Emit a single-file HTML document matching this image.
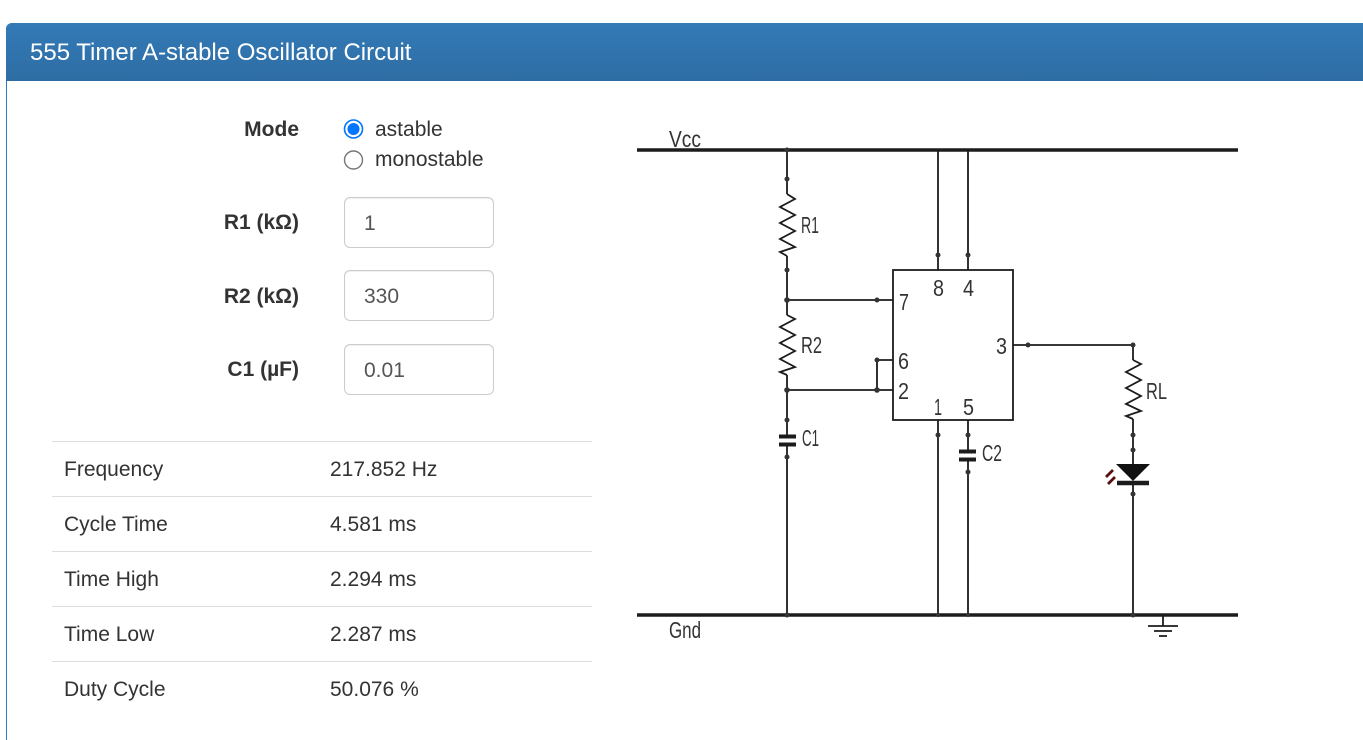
<!DOCTYPE html>
<html lang="en">
<head>
<meta charset="utf-8">
<title>555 Timer A-stable Oscillator Circuit</title>
<style>
html,body{margin:0;padding:0;background:#fff;width:1363px;height:740px;overflow:hidden}
body{position:relative;font-family:"Liberation Sans",Arial,sans-serif;font-size:21px;color:#333}
.panel{position:absolute;left:6px;top:23px;width:1357px;height:717px;border-left:1px solid #337ab7;box-sizing:border-box;border-top-left-radius:6px}
.head{position:absolute;left:6px;top:23px;width:1357px;height:58px;background:linear-gradient(#337ab7,#2e6da4);border-top-left-radius:6px}
.title{position:absolute;left:30px;top:38px;line-height:30px;font-size:24px;color:#fff;white-space:nowrap}
.lab{position:absolute;right:1064px;line-height:30px;font-weight:bold;white-space:nowrap}
.t{position:absolute;line-height:30px;white-space:nowrap}
.input{position:absolute;left:344px;width:150px;height:51px;box-sizing:border-box;border:1px solid #ccc;border-radius:6px;color:#555;line-height:51px;padding-left:19px;background:#fff;box-shadow:inset 0 1px 1px rgba(0,0,0,.07)}
.rule{position:absolute;left:52px;width:540px;height:1px;background:#ddd}
svg{position:absolute;left:0;top:0}
svg text{font-family:"Liberation Sans",Arial,sans-serif;fill:#333}
.diagram{filter:blur(.35px)}
</style>
</head>
<body>
<div class="panel"></div>
<div class="head"></div>
<div class="title">555 Timer A-stable Oscillator Circuit</div>

<div class="lab" style="top:115px">Mode</div>
<div class="t" style="left:375px;top:115px">astable</div>
<div class="t" style="left:375px;top:145px">monostable</div>
<div class="lab" style="top:208px">R1 (kΩ)</div>
<div class="input" style="top:197px">1</div>
<div class="lab" style="top:282px">R2 (kΩ)</div>
<div class="input" style="top:270px">330</div>
<div class="lab" style="top:355px">C1 (µF)</div>
<div class="input" style="top:344px">0.01</div>

<div class="rule" style="top:441px"></div>
<div class="t" style="left:64px;top:455px">Frequency</div><div class="t" style="left:330px;top:455px">217.852 Hz</div>
<div class="rule" style="top:496px"></div>
<div class="t" style="left:64px;top:510px">Cycle Time</div><div class="t" style="left:330px;top:510px">4.581 ms</div>
<div class="rule" style="top:551px"></div>
<div class="t" style="left:64px;top:565px">Time High</div><div class="t" style="left:330px;top:565px">2.294 ms</div>
<div class="rule" style="top:606px"></div>
<div class="t" style="left:64px;top:620px">Time Low</div><div class="t" style="left:330px;top:620px">2.287 ms</div>
<div class="rule" style="top:661px"></div>
<div class="t" style="left:64px;top:675px">Duty Cycle</div><div class="t" style="left:330px;top:675px">50.076 %</div>

<svg width="1363" height="740" viewBox="0 0 1363 740" xmlns="http://www.w3.org/2000/svg">
  <!-- radios -->
  <circle cx="353.5" cy="129" r="9" fill="#fff" stroke="#0075ff" stroke-width="1.6"/>
  <circle cx="353.5" cy="129" r="6" fill="#0075ff"/>
  <circle cx="353.5" cy="160" r="9" fill="#fff" stroke="#767676" stroke-width="1.4"/>

  <g class="diagram">
  <!-- rails -->
  <g stroke="#1c1c1c" fill="none">
    <path d="M637 150H1238M637 615H1238" stroke-width="3.500"/>
    <g stroke-width="1.800">
      <path d="M787 150V194M787 256V315M787 375V435M787 445V615"/>
      <path d="M787 300H893M787 390H893M877 360H893M877 360V390"/>
      <path d="M938 150V270M968 150V270M938 420V615M968 420V451M968 460V615"/>
      <path d="M1013 345H1133V360M1133 419V464M1133 484V615"/>
      <path d="M1163 615V626M1148 626H1178M1154 631H1172M1159 636H1167"/>
    </g>
    <rect x="893" y="270" width="120" height="150" stroke-width="1.800"/>
    <!-- resistors -->
    <g stroke-width="1.800" stroke-linejoin="miter">
      <path d="M787 194L795 199L780 207L795 215L780 223L795 231L780 239L795 247L780 252L787 256"/>
      <path d="M787 315L795 319L780 327L795 335L780 343L795 351L780 359L795 367L780 372L787 375"/>
      <path d="M1133 360L1141 364L1126 372L1141 380L1126 388L1141 396L1126 404L1141 411L1126 416L1133 419"/>
    </g>
    <!-- capacitors -->
    <g stroke-width="4">
      <path d="M779 436.500H796M779 444.500H796"/>
      <path d="M959 451.500H976M959 459.500H976"/>
    </g>
    <path d="M1117 483H1149" stroke-width="4.500"/>
    <path d="M1106 477L1113 470M1108 484L1115 477" stroke="#5a1010" stroke-width="2.800"/>
  </g>
  <path d="M1116 464H1150L1133 481Z" fill="#111"/>

  <!-- junction dots -->
  <g fill="#333">
    <circle cx="787" cy="150" r="2.500"/><circle cx="787" cy="179" r="2.500"/>
    <circle cx="787" cy="270" r="2.500"/><circle cx="787" cy="300" r="2.800"/>
    <circle cx="877" cy="300" r="2.500"/><circle cx="877" cy="360" r="2.500"/>
    <circle cx="877" cy="390" r="2.800"/><circle cx="787" cy="390" r="2.800"/>
    <circle cx="787" cy="420" r="2.500"/><circle cx="787" cy="457" r="2.500"/>
    <circle cx="938" cy="255" r="2.500"/><circle cx="968" cy="255" r="2.500"/>
    <circle cx="938" cy="435" r="2.500"/><circle cx="968" cy="435" r="2.500"/>
    <circle cx="968" cy="472" r="2.500"/><circle cx="1028" cy="345" r="2.500"/>
    <circle cx="1133" cy="345" r="2.500"/><circle cx="1133" cy="435" r="2.500"/>
    <circle cx="1133" cy="450" r="2.500"/><circle cx="1133" cy="494" r="2.500"/>
    <circle cx="787" cy="615" r="2.500"/><circle cx="938" cy="615" r="2"/>
    <circle cx="968" cy="615" r="2"/><circle cx="1133" cy="615" r="2.500"/>
  </g>

  <!-- circuit labels -->
  <g font-size="23">
    <text x="669" y="147" textLength="32" lengthAdjust="spacingAndGlyphs">Vcc</text>
    <text x="669" y="638" textLength="32" lengthAdjust="spacingAndGlyphs">Gnd</text>
    <text x="801" y="233" textLength="18" lengthAdjust="spacingAndGlyphs">R1</text>
    <text x="801" y="353" textLength="21" lengthAdjust="spacingAndGlyphs">R2</text>
    <text x="1146" y="399" textLength="21" lengthAdjust="spacingAndGlyphs">RL</text>
    <text x="802" y="446" textLength="17" lengthAdjust="spacingAndGlyphs">C1</text>
    <text x="982" y="461" textLength="20" lengthAdjust="spacingAndGlyphs">C2</text>
    <text x="933" y="296" textLength="11" lengthAdjust="spacingAndGlyphs">8</text>
    <text x="963" y="296" textLength="11" lengthAdjust="spacingAndGlyphs">4</text>
    <text x="899" y="310" textLength="10" lengthAdjust="spacingAndGlyphs">7</text>
    <text x="898" y="369" textLength="11" lengthAdjust="spacingAndGlyphs">6</text>
    <text x="898" y="399" textLength="11" lengthAdjust="spacingAndGlyphs">2</text>
    <text x="996" y="354" textLength="11" lengthAdjust="spacingAndGlyphs">3</text>
    <text x="934" y="415" textLength="8" lengthAdjust="spacingAndGlyphs">1</text>
    <text x="963" y="415" textLength="11" lengthAdjust="spacingAndGlyphs">5</text>
  </g>
  </g>
</svg>
</body>
</html>
